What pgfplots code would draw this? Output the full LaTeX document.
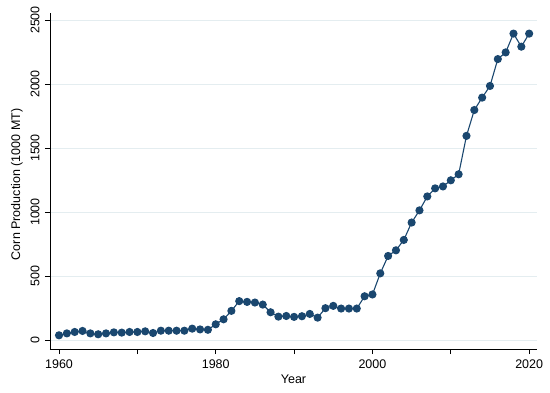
\documentclass[border=0pt]{standalone}
\usepackage{pgfplots}
\pgfplotsset{compat=1.18}
\usepackage{fontspec}
\setmainfont{Liberation Sans}
\definecolor{stnavy}{RGB}{26,71,111}
\definecolor{gridc}{RGB}{228,237,240}
\begin{document}
\begin{tikzpicture}[x=1bp,y=1bp]
\begin{axis}[
  at={(0,0)}, anchor=south west,
  scale only axis,
  width=487bp, height=336bp,
  xmin=1958.85, xmax=2021.0,
  ymin=-70, ymax=2555,
  axis x line*=bottom, axis y line*=left,
  axis line style={black, line width=0.8bp, -},
  xtick={1960,1970,...,2020},
  xticklabels={1960,,1980,,2000,,2020},
  ytick={0,500,...,2500},
  tick align=outside,
  major tick length=5bp,
  tick style={black, line width=0.8bp},
  ymajorgrids, grid style={gridc, line width=0.8bp},
  scaled y ticks=false,
  /pgf/number format/set thousands separator={},
  /pgf/number format/assume math mode=true,
  tick label style={font=\fontsize{12.5bp}{15bp}\selectfont},
  yticklabel style={rotate=90, anchor=center, yshift=10bp},
  xticklabel style={anchor=center, yshift=-10bp},
  label style={font=\fontsize{12.5bp}{15bp}\selectfont},
  xlabel={Year},
  ylabel={Corn Production (1000 MT)},
  xlabel style={at={(axis description cs:0.5,-0.0893)}, anchor=center},
  ylabel style={at={(axis description cs:-0.0678,0.49)}, anchor=center},
  clip=false,
]
\addplot[stnavy, line width=1.1bp, mark=*, mark size=3.5bp, mark options={fill=stnavy, draw=stnavy}] coordinates {
(1960,37) (1961,52) (1962,63) (1963,71) (1964,52) (1965,45) (1966,52) (1967,60) (1968,58) (1969,63)
(1970,63) (1971,68) (1972,55) (1973,73) (1974,73) (1975,73) (1976,73) (1977,89) (1978,83) (1979,80)
(1980,123) (1981,162) (1982,228) (1983,304) (1984,298) (1985,293) (1986,277) (1987,217) (1988,183) (1989,188)
(1990,181) (1991,186) (1992,204) (1993,175) (1994,249) (1995,267) (1996,246) (1997,246) (1998,246) (1999,342)
(2000,356) (2001,521) (2002,657) (2003,701) (2004,782) (2005,918) (2006,1013) (2007,1122) (2008,1185) (2009,1200)
(2010,1248) (2011,1295) (2012,1595) (2013,1797) (2014,1894) (2015,1985) (2016,2195) (2017,2247) (2018,2394) (2019,2292)
(2020,2394)
};
\end{axis}
\pgfresetboundingbox
\useasboundingbox (-50bp,-44bp) rectangle (500bp,349bp);
\end{tikzpicture}
\end{document}
